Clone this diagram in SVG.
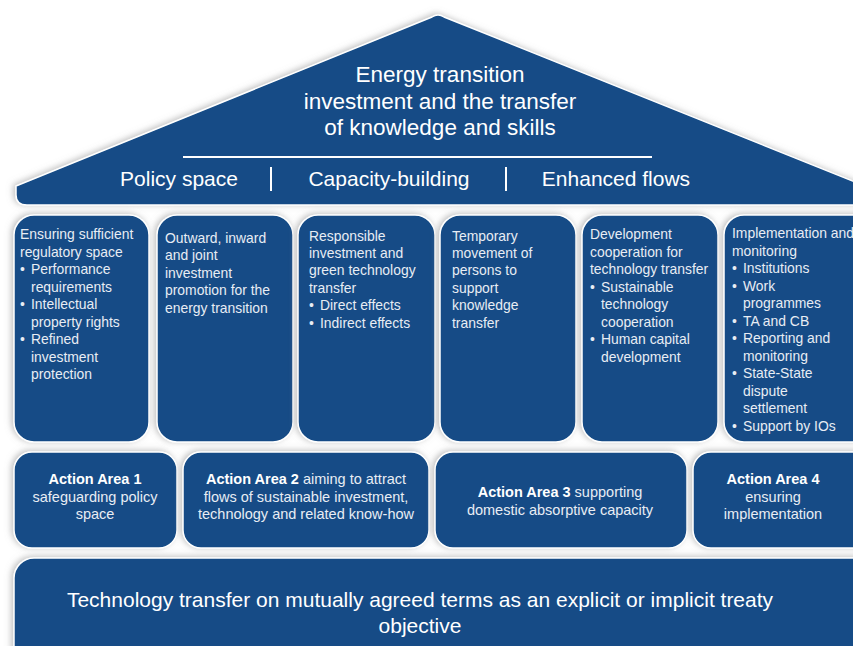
<svg xmlns="http://www.w3.org/2000/svg" width="853" height="646" viewBox="0 0 853 646">
<defs>
<filter id="sh" x="-10%" y="-10%" width="120%" height="120%">
<feDropShadow dx="-2" dy="-1" stdDeviation="3" flood-color="#8a8a8a" flood-opacity="0.55"/>
</filter>
<style>
.blk{fill:#134b86;stroke:#ffffff;stroke-width:1.5;filter:url(#sh);}
.t{font-family:"Liberation Sans",Arial,sans-serif;fill:#ffffff;}
.big{font-size:21px;}
.ttl{font-size:22.5px;}
.sm{font-size:13.9px;fill:#e8edf4;}
.aa{font-size:14.5px;fill:#e8edf4;text-anchor:middle;}
.b{font-weight:bold;fill:#ffffff;}
</style>
</defs>
<rect width="853" height="646" fill="#ffffff"/>

<g id="roof">
<path class="blk" d="M432,17 Q438,13 444,17 L870,188 L870,205 L27,205 Q16,205 16,195 L16,186 Z"/>
<line x1="183" y1="157" x2="652" y2="157" stroke="#ffffff" stroke-width="2"/>
<text class="t ttl" text-anchor="middle" x="440" y="82">Energy transition</text>
<text class="t ttl" text-anchor="middle" x="440" y="109">investment and the transfer</text>
<text class="t ttl" text-anchor="middle" x="440" y="135">of knowledge and skills</text>
<text class="t big" text-anchor="middle" x="179" y="186">Policy space</text>
<line x1="271" y1="167" x2="271" y2="191" stroke="#ffffff" stroke-width="2"/>
<text class="t big" text-anchor="middle" x="389" y="186">Capacity-building</text>
<line x1="506" y1="167" x2="506" y2="191" stroke="#ffffff" stroke-width="2"/>
<text class="t big" text-anchor="middle" x="616" y="186">Enhanced flows</text>
</g>

<g id="pillar1">
<rect class="blk" x="14" y="215" width="135" height="227" rx="20"/>
<text class="t sm" x="20" y="239">Ensuring sufficient</text>
<text class="t sm" x="20" y="257">regulatory space</text>
<text class="t sm" x="20" y="274">•</text><text class="t sm" x="31" y="274">Performance</text>
<text class="t sm" x="31" y="292">requirements</text>
<text class="t sm" x="20" y="309">•</text><text class="t sm" x="31" y="309">Intellectual</text>
<text class="t sm" x="31" y="327">property rights</text>
<text class="t sm" x="20" y="344">•</text><text class="t sm" x="31" y="344">Refined</text>
<text class="t sm" x="31" y="362">investment</text>
<text class="t sm" x="31" y="379">protection</text>
</g>

<g id="pillar2">
<rect class="blk" x="157" y="215" width="136" height="227" rx="20"/>
<text class="t sm" x="165" y="243">Outward, inward</text>
<text class="t sm" x="165" y="260">and joint</text>
<text class="t sm" x="165" y="278">investment</text>
<text class="t sm" x="165" y="295">promotion for the</text>
<text class="t sm" x="165" y="313">energy transition</text>
</g>

<g id="pillar3">
<rect class="blk" x="298" y="215" width="137" height="227" rx="20"/>
<text class="t sm" x="309" y="241">Responsible</text>
<text class="t sm" x="309" y="258">investment and</text>
<text class="t sm" x="309" y="275">green technology</text>
<text class="t sm" x="309" y="293">transfer</text>
<text class="t sm" x="309" y="310">•</text><text class="t sm" x="320" y="310">Direct effects</text>
<text class="t sm" x="309" y="328">•</text><text class="t sm" x="320" y="328">Indirect effects</text>
</g>

<g id="pillar4">
<rect class="blk" x="440" y="215" width="136" height="227" rx="20"/>
<text class="t sm" x="452" y="241">Temporary</text>
<text class="t sm" x="452" y="258">movement of</text>
<text class="t sm" x="452" y="275">persons to</text>
<text class="t sm" x="452" y="293">support</text>
<text class="t sm" x="452" y="310">knowledge</text>
<text class="t sm" x="452" y="328">transfer</text>
</g>

<g id="pillar5">
<rect class="blk" x="582" y="215" width="136" height="227" rx="20"/>
<text class="t sm" x="590" y="239">Development</text>
<text class="t sm" x="590" y="257">cooperation for</text>
<text class="t sm" x="590" y="274">technology transfer</text>
<text class="t sm" x="590" y="292">•</text><text class="t sm" x="601" y="292">Sustainable</text>
<text class="t sm" x="601" y="309">technology</text>
<text class="t sm" x="601" y="327">cooperation</text>
<text class="t sm" x="590" y="344">•</text><text class="t sm" x="601" y="344">Human capital</text>
<text class="t sm" x="601" y="362">development</text>
</g>

<g id="pillar6">
<rect class="blk" x="724" y="215" width="160" height="227" rx="20"/>
<text class="t sm" x="732" y="238">Implementation and</text>
<text class="t sm" x="732" y="256">monitoring</text>
<text class="t sm" x="732" y="273">•</text><text class="t sm" x="743" y="273">Institutions</text>
<text class="t sm" x="732" y="291">•</text><text class="t sm" x="743" y="291">Work</text>
<text class="t sm" x="743" y="308">programmes</text>
<text class="t sm" x="732" y="326">•</text><text class="t sm" x="743" y="326">TA and CB</text>
<text class="t sm" x="732" y="343">•</text><text class="t sm" x="743" y="343">Reporting and</text>
<text class="t sm" x="743" y="361">monitoring</text>
<text class="t sm" x="732" y="378">•</text><text class="t sm" x="743" y="378">State-State</text>
<text class="t sm" x="743" y="396">dispute</text>
<text class="t sm" x="743" y="413">settlement</text>
<text class="t sm" x="732" y="431">•</text><text class="t sm" x="743" y="431">Support by IOs</text>
</g>

<g id="aa1">
<rect class="blk" x="14" y="452" width="163" height="96" rx="18"/>
<text class="t aa" x="95" y="484"><tspan class="b">Action Area 1</tspan></text>
<text class="t aa" x="95" y="502">safeguarding policy</text>
<text class="t aa" x="95" y="519">space</text>
</g>

<g id="aa2">
<rect class="blk" x="183" y="452" width="246" height="96" rx="18"/>
<text class="t aa" x="306" y="484"><tspan class="b">Action Area 2</tspan> aiming to attract</text>
<text class="t aa" x="306" y="502">flows of sustainable investment,</text>
<text class="t aa" x="306" y="519">technology and related know-how</text>
</g>

<g id="aa3">
<rect class="blk" x="435" y="452" width="252" height="96" rx="18"/>
<text class="t aa" x="560" y="497"><tspan class="b">Action Area 3</tspan> supporting</text>
<text class="t aa" x="560" y="515">domestic absorptive capacity</text>
</g>

<g id="aa4">
<rect class="blk" x="693" y="452" width="190" height="96" rx="18"/>
<text class="t aa" x="773" y="484"><tspan class="b">Action Area 4</tspan></text>
<text class="t aa" x="773" y="502">ensuring</text>
<text class="t aa" x="773" y="519">implementation</text>
</g>

<g id="base">
<rect class="blk" x="14" y="558" width="880" height="110" rx="20"/>
<text class="t big" text-anchor="middle" x="420" y="607">Technology transfer on mutually agreed terms as an explicit or implicit treaty</text>
<text class="t big" text-anchor="middle" x="420" y="633">objective</text>
</g>

<g id="connectors"></g>
</svg>
